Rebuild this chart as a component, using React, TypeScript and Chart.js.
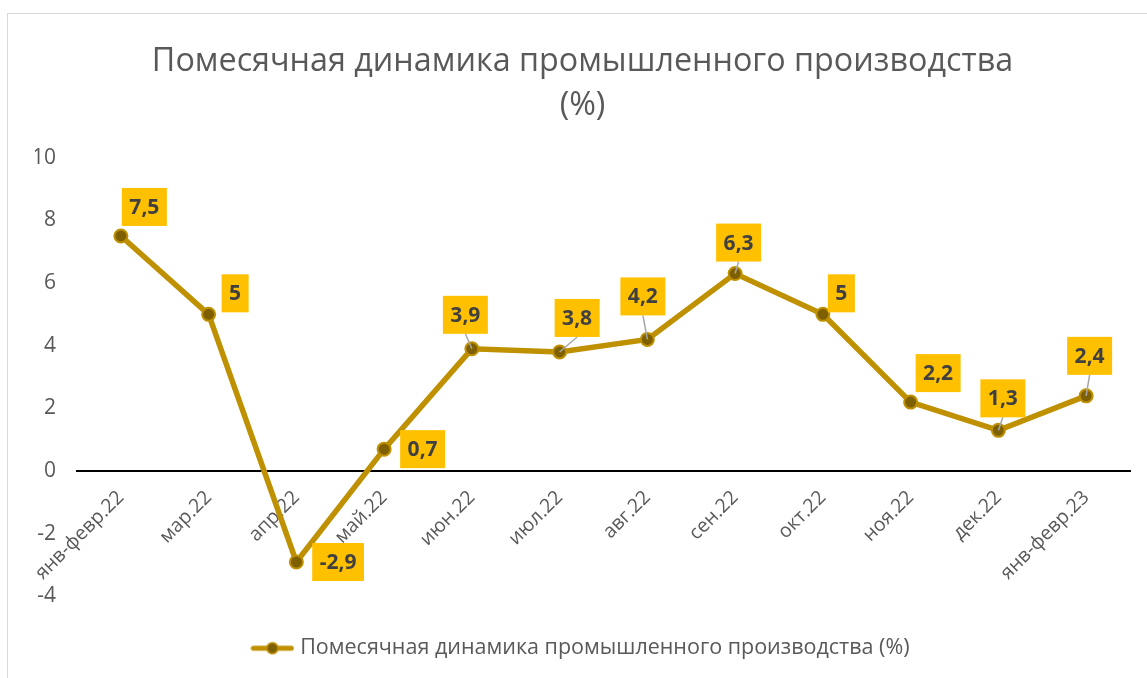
import React, { useEffect, useRef } from "react";
import { Chart, registerables } from "chart.js";

Chart.register(...registerables);

const categories = [
  "янв-февр.22", "мар.22", "апр.22", "май.22", "июн.22", "июл.22",
  "авг.22", "сен.22", "окт.22", "ноя.22", "дек.22", "янв-февр.23",
];
const values = [7.5, 5, -2.9, 0.7, 3.9, 3.8, 4.2, 6.3, 5, 2.2, 1.3, 2.4];
const seriesName = "Помесячная динамика промышленного производства (%)";
const titleLines = ["Помесячная динамика промышленного производства", "(%)"];
const yTicks = [-4, -2, 0, 2, 4, 6, 8, 10];

// label box placement relative to the point: [dx, dy, leaderLine]
const labelPlacement: [number, number, boolean][] = [
  [23.5, -29, false], [26.5, -21, false], [41.7, 0, false], [38.5, 0, false],
  [-6.5, -34, true], [17.5, -34, true], [-4.5, -43, true], [3.5, -31, true],
  [18.5, -21, false], [27.5, -29, false], [4.5, -32, true], [3.5, -40, true],
];

const FONT = "'Open Sans', 'Noto Sans', sans-serif";
const LINE = "#BF9000";
const MARK = "#7F6000";

function fmt(v: number) {
  return String(v).replace(".", ",");
}

function legendIcon() {
  const c = document.createElement("canvas");
  c.width = 44;
  c.height = 16;
  const ctx = c.getContext("2d")!;
  ctx.strokeStyle = LINE;
  ctx.lineWidth = 5;
  ctx.lineCap = "round";
  ctx.beginPath();
  ctx.moveTo(3, 8);
  ctx.lineTo(41, 8);
  ctx.stroke();
  ctx.beginPath();
  ctx.arc(22, 8, 5.5, 0, Math.PI * 2);
  ctx.fillStyle = MARK;
  ctx.fill();
  ctx.lineWidth = 1.5;
  ctx.strokeStyle = LINE;
  ctx.stroke();
  return c;
}

const dataLabelPlugin = {
  id: "boxLabels",
  afterDatasetsDraw(chart: any) {
    const ctx = chart.ctx;
    const meta = chart.getDatasetMeta(0);
    ctx.save();
    ctx.font = `bold 21px ${FONT}`;
    meta.data.forEach((pt: any, i: number) => {
      const [dx, dy, leader] = labelPlacement[i];
      const text = fmt(values[i]);
      const tw = ctx.measureText(text).width;
      const w = tw + 15;
      const h = 38;
      const cx = pt.x + dx;
      const cy = pt.y + dy;
      if (leader) {
        ctx.strokeStyle = "#A6A6A6";
        ctx.lineWidth = 1.5;
        ctx.beginPath();
        ctx.moveTo(cx, cy + h / 2);
        ctx.lineTo(pt.x, pt.y);
        ctx.stroke();
      }
      ctx.fillStyle = "#FFC000";
      ctx.fillRect(cx - w / 2, cy - h / 2, w, h);
      ctx.fillStyle = "#404040";
      ctx.textAlign = "center";
      ctx.textBaseline = "middle";
      ctx.fillText(text, cx, cy + 1);
    });
    ctx.restore();
  },
};

export default function App() {
  const ref = useRef<HTMLCanvasElement>(null);
  useEffect(() => {
    const chart = new Chart(ref.current!, {
      type: "line",
      data: {
        labels: categories,
        datasets: [
          {
            label: seriesName,
            data: values,
            borderColor: LINE,
            backgroundColor: MARK,
            borderWidth: 5.5,
            pointRadius: 6.5,
            pointBorderWidth: 2,
            pointBackgroundColor: MARK,
            pointBorderColor: LINE,
            pointStyle: "circle",
            tension: 0,
          },
        ],
      },
      plugins: [dataLabelPlugin],
      options: {
        responsive: false,
        animation: false,
        layout: { padding: { left: 35, right: 17, top: 0, bottom: 9 } },
        plugins: {
          title: {
            display: true,
            text: titleLines,
            color: "#595959",
            font: { family: FONT, size: 32.3, weight: "normal", lineHeight: 1.34 },
            padding: { top: 40.5, bottom: 30.5 },
          },
          legend: {
            display: true,
            position: "bottom",
            labels: {
              color: "#595959",
              font: { family: FONT, size: 21.5 },
              usePointStyle: true,
              pointStyle: legendIcon() as any,
              pointStyleWidth: 34,
              padding: 10,
            },
          },
          tooltip: { enabled: false },
        },
        scales: {
          x: {
            type: "category",
            position: { y: 0 } as any,
            offset: true,
            grid: { display: false, drawTicks: false },
            border: { display: true, color: "#000000", width: 2 },
            ticks: {
              color: "#595959",
              font: { family: FONT, size: 19.5 },
              minRotation: 45,
              maxRotation: 45,
              autoSkip: false,
              padding: 15,
            },
          },
          x2: {
            type: "category",
            position: "bottom",
            display: true,
            grid: { display: false, drawTicks: false },
            border: { display: false },
            ticks: { display: false },
            afterFit(s: any) {
              s.height = 31;
            },
          },
          y: {
            min: -4,
            max: 10,
            grid: { display: false, drawTicks: false },
            border: { display: false },
            ticks: {
              stepSize: 2,
              color: "#595959",
              font: { family: FONT, size: 21 },
              padding: 21,
              callback: (v: any) => (yTicks.includes(Number(v)) ? String(v) : ""),
            },
            afterFit(s: any) {
              s.width = 42;
            },
          },
        },
      },
    });
    return () => chart.destroy();
  }, []);

  return (
    <div style={{ position: "absolute", left: 0, top: 0, width: 1147, height: 678, overflow: "hidden", background: "#fff" }}>
      <div
        style={{
          position: "absolute",
          left: 7,
          top: 13,
          width: 1200,
          height: 700,
          border: "1.5px solid #D9D9D9",
          boxSizing: "border-box",
        }}
      />
      <canvas ref={ref} width={1147} height={678} style={{ position: "absolute", left: 0, top: 0 }} />
    </div>
  );
}
